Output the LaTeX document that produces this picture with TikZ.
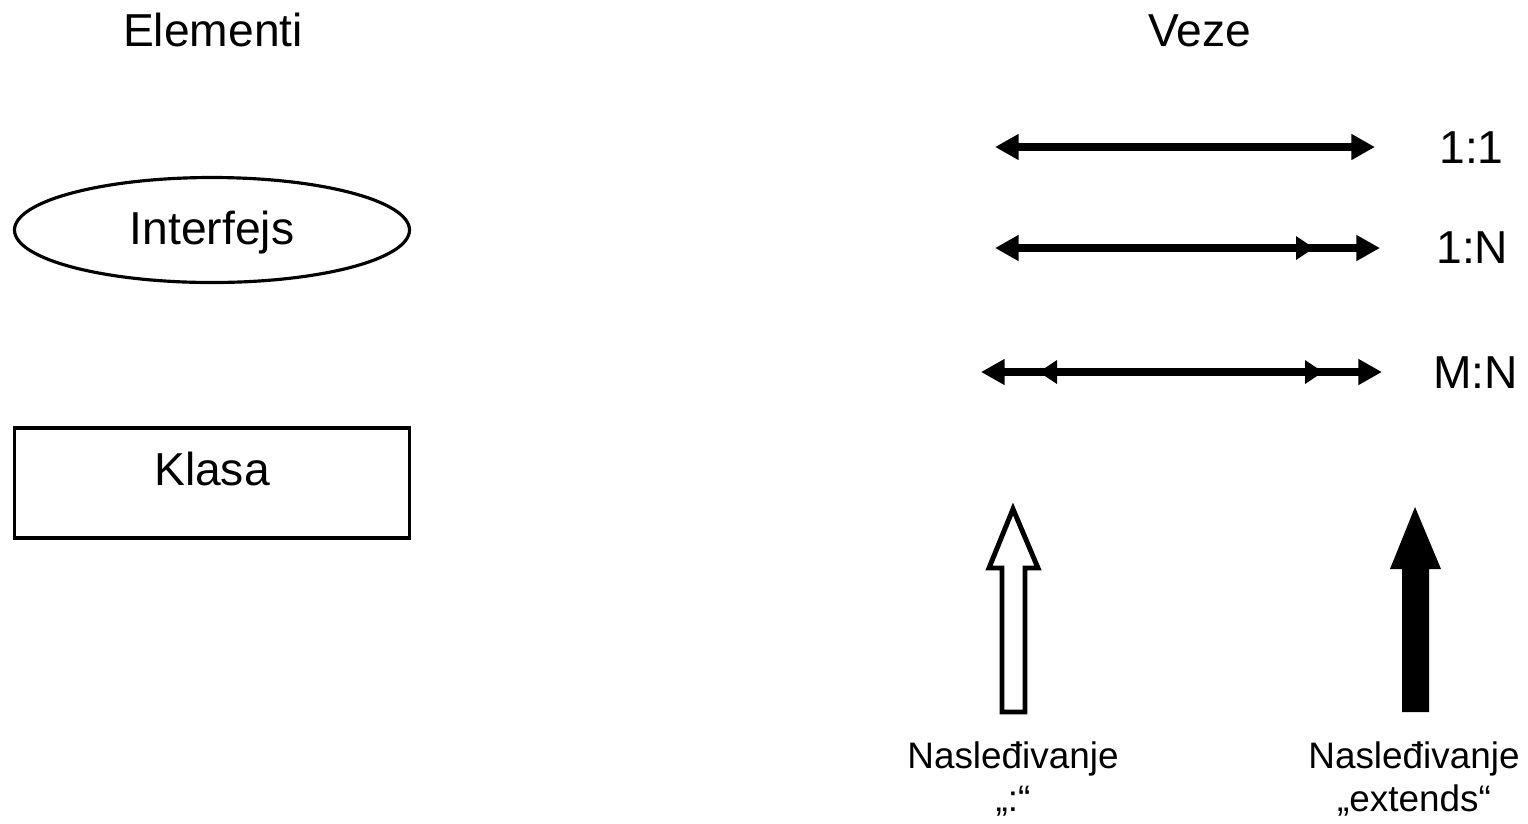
\documentclass[tikz,border=0pt]{standalone}
\usepackage{fontspec}
\setmainfont{Liberation Sans}
\usetikzlibrary{arrows.meta,shapes.geometric}
\begin{document}
\begin{tikzpicture}[x=0.02cm,y=-0.02cm,
  big/.style={font=\fontsize{26.3}{30}\selectfont, inner sep=0pt, anchor=base},
  small/.style={font=\fontsize{21}{24}\selectfont, inner sep=0pt, anchor=base},
  shapeline/.style={draw, line width=1.8pt},
  conn/.style={line width=4.2pt, {Triangle[length=13.5pt,width=14pt]}-{Triangle[length=13.5pt,width=14pt]}},
  midhead/.style={fill=black}
]
\useasboundingbox (0,0) rectangle (1528,823);
% headings
\node[big] (elementi) at (213,46) {Elementi};
\node[big] (veze) at (1200,46) {Veze};
% elements
\node[shapeline, ellipse, minimum width=395*0.02cm, minimum height=105*0.02cm, inner sep=0pt] (iface) at (212,230) {};
\node[big] (ifacetxt) at (212,244) {Interfejs};
\node[shapeline, rectangle, minimum width=395*0.02cm, minimum height=110*0.02cm, inner sep=0pt] (klasa) at (212,483) {};
\node[big] (klasatxt) at (212,485) {Klasa};
% 1:1
\coordinate (a1) at (995,147);
\coordinate (b1) at (1375,147);
\draw[conn] (a1) -- (b1);
\node[big, anchor=base west] (l11) at (1439,163) {1:1};
% 1:N
\coordinate (a2) at (995,248);
\coordinate (b2) at (1380,248);
\draw[conn] (a2) -- (b2);
\fill[midhead] (1296,236) -- (1314,248) -- (1296,260) -- cycle;
\node[big, anchor=base west] (l1n) at (1436,263) {1:N};
% M:N
\coordinate (a3) at (981,372);
\coordinate (b3) at (1382,372);
\draw[conn] (a3) -- (b3);
\fill[midhead] (1057,360) -- (1039,372) -- (1057,384) -- cycle;
\fill[midhead] (1305,360) -- (1323,372) -- (1305,384) -- cycle;
\node[big, anchor=base west] (lmn) at (1433,388) {M:N};
% inheritance arrows
\draw[line width=2.8pt, line join=miter] (1002,712) -- (1002,568) -- (989,568) -- (1013,509) -- (1038,568) -- (1025,568) -- (1025,712) -- cycle;
\fill (1402,712) -- (1402,569) -- (1390,569) -- (1415,507) -- (1441,569) -- (1429,569) -- (1429,712) -- cycle;
\node[small] (inh1) at (1013,768) {Nasleđivanje};
\node[small] (inh1b) at (1013,811) {„:“};
\node[small] (inh2) at (1414,768) {Nasleđivanje};
\node[small] (inh2b) at (1414,811) {„extends“};
\end{tikzpicture}
\end{document}
